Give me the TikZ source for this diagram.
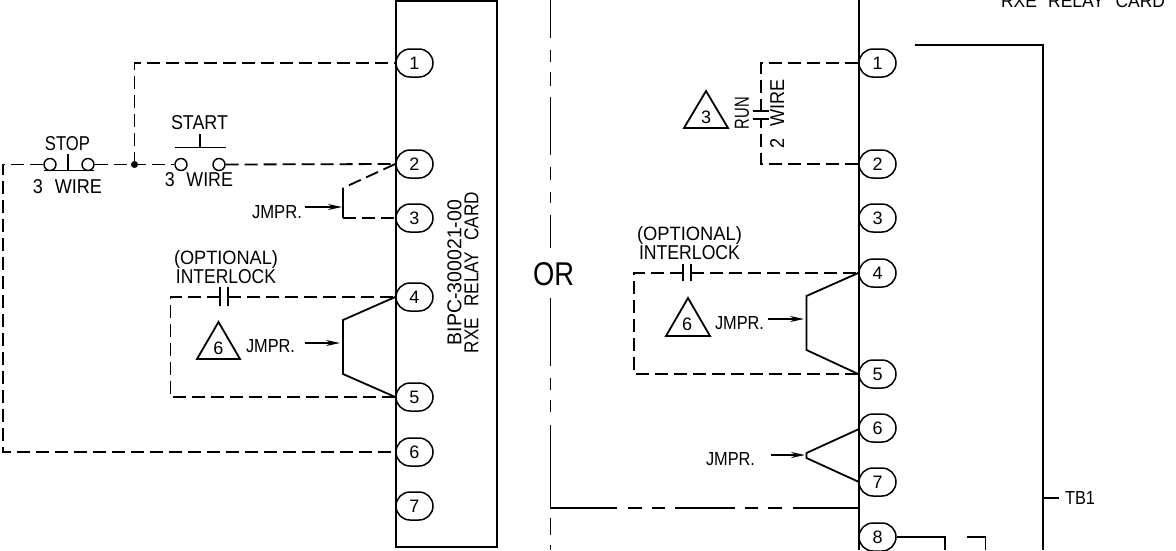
\documentclass[tikz,border=0pt]{standalone}
\usepackage{fontspec}
\usepackage{graphicx}
\setmainfont{Liberation Sans}
\usetikzlibrary{shapes.misc,arrows.meta}
\newcommand{\fit}[3]{\resizebox{#1pt}{#2pt}{#3}}
\newcommand{\wsp}{\hspace{0.65em}}
\tikzset{
  wire/.style={line width=1.8pt,line join=miter},
  dashwire/.style={wire,dash pattern=on 13pt off 6pt},
  pill/.style={draw,line width=1.5pt,rounded rectangle,minimum width=37pt,minimum height=28pt,inner sep=0pt,font=\fontsize{18}{19}\selectfont},
  lbl/.style={inner sep=0pt,outer sep=0pt},
  ptr/.style={line width=1.3pt,-{Stealth[length=14pt,width=6pt]}},
  terminalcircle/.style={circle,draw,line width=1.4pt,minimum size=12pt,inner sep=0pt},
  tri/.style={wire,line join=miter},
  dot/.style={circle,fill=black,minimum size=7pt,inner sep=0pt},
  digit/.style={lbl,font=\fontsize{18}{19}\selectfont}
}
\begin{document}
\begin{tikzpicture}[x=1pt,y=-1pt]
\useasboundingbox (0,0) rectangle (1176,550);
% left card
\node[draw,line width=1.8pt,minimum width=101pt,minimum height=546pt,inner sep=0pt] (lbox) at (446.5,274) {};
\foreach \n/\yy in {1/63,2/164,3/218,4/297,5/397,6/452,7/506}
  \node[pill] (l\n) at (414.5,\yy) {\n};
\node[lbl,rotate=90] (cardA) at (454.5,272.5) {\fit{145}{14}{BIPC-300021-00}};
\node[lbl,rotate=90] (cardB) at (471.5,272.5) {\fit{161}{14}{RXE\wsp RELAY\wsp CARD}};
% stop / start
\node[terminalcircle] (stopa) at (50,164.5) {};
\node[terminalcircle] (stopb) at (88,164.5) {};
\node[terminalcircle] (starta) at (181,164.5) {};
\node[terminalcircle] (startb) at (219,164.5) {};
\node[dot] (junc) at (134.5,164.5) {};
\coordinate (lcorner) at (3,164.5);
\coordinate (lcorner2) at (3,452);
\coordinate (jup) at (134.5,63);
\draw[dashwire] (stopa.west) -- (lcorner) -- (lcorner2) -- (l6.west);
\draw[dashwire] (stopb.east) -- (junc.center) -- (starta.west);
\draw[dashwire] (junc.center) -- (jup) -- (l1.west);
\draw[dashwire] (startb.east) -- (l2.west);
\coordinate (stopbarL) at (44,170.5); \coordinate (stopbarR) at (94,170.5);
\coordinate (stopstem) at (68,154); \coordinate (stopstemb) at (68,170.5);
\draw[wire] (stopbarL) -- (stopbarR) (stopstem) -- (stopstemb);
\coordinate (startbarL) at (175,147.5); \coordinate (startbarR) at (226,147.5);
\coordinate (startstem) at (200,134); \coordinate (startstemb) at (200,147.5);
\draw[wire] (startbarL) -- (startbarR) (startstem) -- (startstemb);
\node[lbl] (stoptxt) at (67.5,143.5) {\fit{45}{14}{STOP}};
\node[lbl] (stopw) at (67.5,187) {\fit{69}{14}{3\wsp WIRE}};
\node[lbl] (starttxt) at (199.5,123) {\fit{57}{14}{START}};
\node[lbl] (startw) at (199,180) {\fit{68}{14}{3\wsp WIRE}};
% jumper 2-3
\coordinate (j1a) at (343,188); \coordinate (j1b) at (343,218);
\draw[dashwire] (l2.west) -- (j1a);
\draw[wire] (j1a) -- (j1b);
\draw[dashwire] (j1b) -- (l3.west);
\node[lbl] (jm1) at (277,212) {\fit{50}{13}{JMPR.}};
\coordinate (jm1s) at (305,207); \coordinate (jm1e) at (342,207);
\draw[ptr] (jm1s) -- (jm1e);
% left interlock
\node[lbl] (opt1) at (226,259) {\fit{104}{14}{(OPTIONAL)}};
\node[lbl] (int1) at (226,277) {\fit{100}{14}{INTERLOCK}};
\coordinate (ci1) at (220,297); \coordinate (ci2) at (228,297);
\coordinate (lc1) at (170.5,297); \coordinate (lc2) at (170.5,397);
\draw[dashwire] (ci1) -- (lc1) -- (lc2) -- (l5.west);
\draw[dashwire] (ci2) -- (l4.west);
\draw[wire] (220,287) -- (220,306) (228,287) -- (228,306);
\coordinate (t1a) at (218.5,322); \coordinate (t1b) at (197,359); \coordinate (t1c) at (240,359);
\draw[tri] (t1a) -- (t1b) -- (t1c) -- cycle;
\node[digit] (t1n) at (218.5,348) {6};
\node[lbl] (jm2) at (270.5,346) {\fit{49}{13}{JMPR.}};
\coordinate (jm2s) at (305,343); \coordinate (jm2e) at (340,343);
\draw[ptr] (jm2s) -- (jm2e);
\coordinate (j2a) at (343,320); \coordinate (j2b) at (343,374);
\draw[wire] (l4.west) -- (j2a) -- (j2b) -- (l5.west);
% OR divider
\draw[wire] (550.5,0) -- (550.5,38) (550.5,50) -- (550.5,62) (550.5,72) -- (550.5,86)
  (550.5,97) -- (550.5,155) (550.5,167) -- (550.5,180) (550.5,192) -- (550.5,203) (550.5,215) -- (550.5,248)
  (550.5,298) -- (550.5,366) (550.5,378) -- (550.5,390) (550.5,400) -- (550.5,412) (550.5,425) -- (550.5,508)
  -- (617,508) (628,508) -- (642,508) (652,508) -- (665,508) (675,508) -- (735,508) (745,508) -- (758,508)
  (768,508) -- (782,508) (793,508) -- (859,508)
  (550.5,518) -- (550.5,535) (550.5,545) -- (550.5,550);
\node[lbl] (ortxt) at (553.5,274.5) {\fit{41}{23}{OR}};
% right card
\coordinate (rt) at (859,0); \coordinate (rb) at (859,550);
\draw[wire] (rt) -- (rb);
\foreach \n/\yy in {1/63,2/164,3/218,4/273,5/374,6/428,7/482,8/537}
  \node[pill] (r\n) at (877.5,\yy) {\n};
% run contact
\coordinate (rc1) at (761,63); \coordinate (rc2) at (761,164);
\coordinate (rp1) at (761,111); \coordinate (rp2) at (761,119);
\draw[dashwire] (r1.west) -- (rc1) -- (rp1);
\draw[dashwire] (r2.west) -- (rc2) -- (rp2);
\draw[wire] (753,111) -- (769,111) (753,119) -- (769,119);
\node[lbl,rotate=90] (runtxt) at (742,113) {\fit{32}{14}{RUN}};
\node[lbl,rotate=90] (wire2) at (777,113.5) {\fit{69}{14}{2\wsp WIRE}};
\coordinate (t2a) at (706,91); \coordinate (t2b) at (684,128); \coordinate (t2c) at (728,128);
\draw[tri] (t2a) -- (t2b) -- (t2c) -- cycle;
\node[digit] (t2n) at (706,117) {3};
% right interlock
\node[lbl] (opt2) at (689.5,235) {\fit{105}{14}{(OPTIONAL)}};
\node[lbl] (int2) at (689.5,253) {\fit{101}{14}{INTERLOCK}};
\coordinate (ci3) at (683,273); \coordinate (ci4) at (691,273);
\coordinate (rc3) at (634,273); \coordinate (rc4) at (634,374);
\draw[dashwire] (ci3) -- (rc3) -- (rc4) -- (r5.west);
\draw[dashwire] (ci4) -- (r4.west);
\draw[wire] (683,264) -- (683,281) (691,264) -- (691,281);
\coordinate (t3a) at (688,298); \coordinate (t3b) at (666,336); \coordinate (t3c) at (710,336);
\draw[tri] (t3a) -- (t3b) -- (t3c) -- cycle;
\node[digit] (t3n) at (687,324) {6};
\node[lbl] (jm3) at (739.5,323) {\fit{49}{13}{JMPR.}};
\coordinate (jm3s) at (768,319); \coordinate (jm3e) at (804,319);
\draw[ptr] (jm3s) -- (jm3e);
\coordinate (j3a) at (806.5,296); \coordinate (j3b) at (806.5,350);
\draw[wire] (r4.west) -- (j3a) -- (j3b) -- (r5.west);
% jumper 6-7
\coordinate (j6) at (859,429); \coordinate (j7) at (859,482);
\coordinate (j4a) at (806.5,453); \coordinate (j4b) at (806.5,458);
\draw[wire] (j6) -- (j4a) -- (j4b) -- (j7);
\node[lbl] (jm4) at (730.5,459) {\fit{49}{13}{JMPR.}};
\coordinate (jm4s) at (771,455); \coordinate (jm4e) at (805,455);
\draw[ptr] (jm4s) -- (jm4e);
% TB1
\coordinate (tba) at (915,45); \coordinate (tbb) at (1043,45); \coordinate (tbc) at (1043,550);
\coordinate (tbt) at (1043,498); \coordinate (tbu) at (1059,498);
\draw[wire] (tba) -- (tbb) -- (tbc) (tbt) -- (tbu);
\node[lbl,anchor=west] (tbl) at (1065,498) {\fit{30}{13}{TB1}};
\coordinate (b8a) at (945,537); \coordinate (b8b) at (945,550);
\draw[wire] (r8.east) -- (b8a) -- (b8b);
\coordinate (bca) at (967,537); \coordinate (bcb) at (985.5,537); \coordinate (bcc) at (985.5,550);
\draw[wire] (bca) -- (bcb) -- (bcc);
\node[lbl] (toptxt) at (1083,1.5) {\fit{164}{13}{RXE\wsp RELAY\wsp CARD}};
\end{tikzpicture}
\end{document}
